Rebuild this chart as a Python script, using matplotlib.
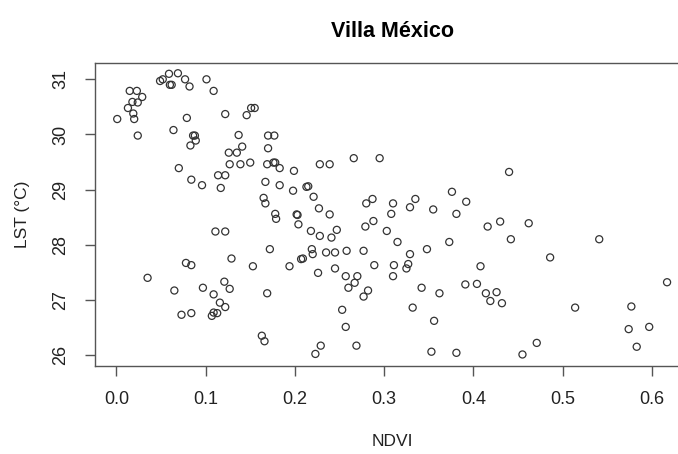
import matplotlib
matplotlib.use('Agg')
import matplotlib.pyplot as plt

# NDVI vs land surface temperature, Villa México
ndvi = [0.001, 0.015, 0.023, 0.029, 0.018, 0.024, 0.013, 0.019, 0.020, 0.024,
        0.049, 0.052, 0.059, 0.069, 0.060, 0.062, 0.077, 0.082, 0.101, 0.109,
        0.079, 0.064, 0.086, 0.088, 0.089, 0.083, 0.070, 0.084, 0.096, 0.114,
        0.122, 0.117, 0.122, 0.146, 0.151, 0.155, 0.137, 0.141, 0.126, 0.135,
        0.127, 0.139, 0.150, 0.170, 0.177, 0.170, 0.169, 0.176, 0.178, 0.183,
        0.167, 0.183, 0.165, 0.167, 0.178, 0.179, 0.199, 0.228, 0.239, 0.266,
        0.295, 0.198, 0.213, 0.215, 0.221, 0.227, 0.239, 0.202, 0.203, 0.280,
        0.287, 0.310, 0.335, 0.329, 0.355, 0.376, 0.392, 0.308, 0.381, 0.440,
        0.111, 0.122, 0.172, 0.129, 0.078, 0.084, 0.153, 0.035, 0.065, 0.097,
        0.121, 0.127, 0.109, 0.169, 0.116, 0.122, 0.073, 0.084, 0.107, 0.109,
        0.113, 0.163, 0.166, 0.204, 0.218, 0.228, 0.241, 0.247, 0.279, 0.288,
        0.303, 0.315, 0.348, 0.373, 0.219, 0.220, 0.235, 0.245, 0.258, 0.277,
        0.329, 0.194, 0.207, 0.209, 0.226, 0.245, 0.289, 0.311, 0.327, 0.325,
        0.310, 0.257, 0.270, 0.267, 0.260, 0.282, 0.277, 0.342, 0.362, 0.391,
        0.253, 0.332, 0.356, 0.257, 0.229, 0.223, 0.269, 0.353, 0.381, 0.416,
        0.430, 0.462, 0.442, 0.541, 0.486, 0.408, 0.404, 0.414, 0.426, 0.419,
        0.432, 0.514, 0.577, 0.617, 0.574, 0.597, 0.583, 0.471, 0.455]
lst = [30.28, 30.79, 30.79, 30.68, 30.59, 30.58, 30.48, 30.38, 30.28, 29.98,
       30.97, 31.00, 31.10, 31.11, 30.90, 30.90, 31.00, 30.87, 31.00, 30.79,
       30.30, 30.08, 29.98, 29.98, 29.89, 29.80, 29.39, 29.18, 29.08, 29.26,
       29.26, 29.03, 30.37, 30.35, 30.48, 30.48, 29.99, 29.78, 29.67, 29.67,
       29.46, 29.46, 29.49, 29.98, 29.98, 29.75, 29.46, 29.49, 29.49, 29.39,
       29.14, 29.08, 28.85, 28.75, 28.56, 28.47, 29.34, 29.46, 29.46, 29.57,
       29.57, 28.98, 29.05, 29.06, 28.87, 28.66, 28.55, 28.55, 28.54, 28.75,
       28.83, 28.75, 28.83, 28.68, 28.64, 28.96, 28.78, 28.56, 28.56, 29.32,
       28.24, 28.24, 27.92, 27.75, 27.67, 27.63, 27.61, 27.40, 27.17, 27.22,
       27.33, 27.20, 27.10, 27.12, 26.95, 26.87, 26.73, 26.76, 26.71, 26.77,
       26.76, 26.35, 26.25, 28.37, 28.25, 28.16, 28.13, 28.27, 28.33, 28.43,
       28.25, 28.05, 27.92, 28.05, 27.92, 27.83, 27.86, 27.86, 27.89, 27.89,
       27.83, 27.61, 27.74, 27.75, 27.49, 27.57, 27.63, 27.63, 27.65, 27.57,
       27.43, 27.43, 27.43, 27.31, 27.22, 27.17, 27.06, 27.22, 27.12, 27.28,
       26.82, 26.86, 26.62, 26.51, 26.17, 26.02, 26.17, 26.06, 26.04, 28.33,
       28.42, 28.39, 28.10, 28.10, 27.77, 27.61, 27.29, 27.12, 27.14, 26.98,
       26.94, 26.86, 26.88, 27.32, 26.47, 26.51, 26.15, 26.22, 26.01]

x_ticks = [0.0, 0.1, 0.2, 0.3, 0.4, 0.5, 0.6]
x_tick_labels = ['0.0', '0.1', '0.2', '0.3', '0.4', '0.5', '0.6']
y_ticks = [26, 27, 28, 29, 30, 31]

plt.rcParams['font.family'] = ['Liberation Sans', 'DejaVu Sans']

W, H = 678, 454
fig = plt.figure(figsize=(W / 100, H / 100), dpi=100)
# plot box runs a little past the right edge (the original is cropped there)
ax = fig.add_axes([95 / W, (H - 365.5) / H, (690 - 95) / W, (365.5 - 63) / H])

ax.scatter(ndvi, lst, s=26, marker='o', facecolors='none',
           edgecolors='#333333', linewidths=0.9)

ax.set_xlim(-0.0239, 0.6427)
ax.set_ylim(25.81, 31.296)
ax.set_xticks(x_ticks)
ax.set_xticklabels(x_tick_labels)
ax.set_yticks(y_ticks)
ax.set_yticklabels([str(v) for v in y_ticks], rotation=90, va='center')

for s in ax.spines.values():
    s.set_color('#555555')
    s.set_linewidth(1.0)
ax.spines['right'].set_visible(False)
ax.tick_params(axis='both', direction='out', length=7.5, width=1.0,
               color='#555555', labelsize=13, labelcolor='#222222', pad=11)

fig.text(392.5 / W, 1 - 37 / H, 'Villa México', ha='center', va='baseline',
         fontsize=15.5, fontweight='bold', color='black')
fig.text(392.5 / W, 1 - 442 / H, 'NDVI', ha='center', va='center',
         fontsize=12.5, color='#222222')
fig.text(23 / W, 1 - 214 / H, 'LST (°C)', ha='center', va='center',
         rotation=90, fontsize=12.5, color='#222222')

fig.savefig('out.png', dpi=100)
